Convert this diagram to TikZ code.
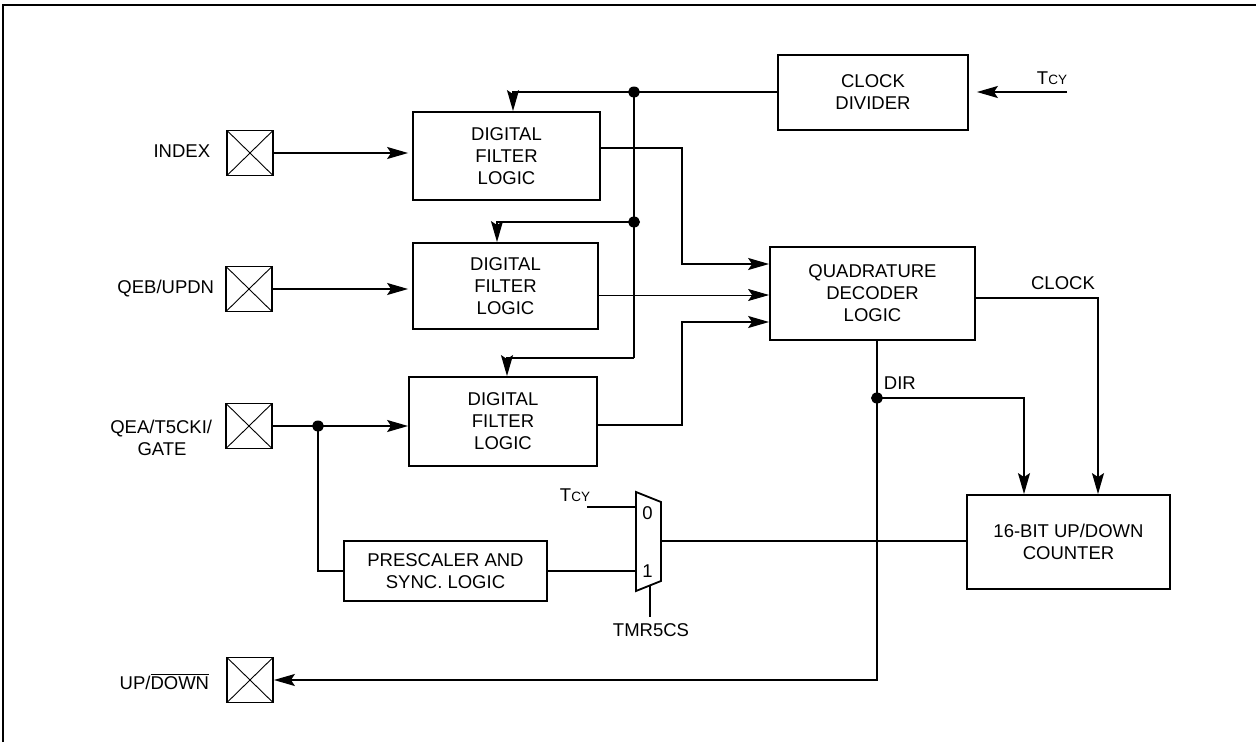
\documentclass[tikz,border=0pt]{standalone}
\usepackage{fontspec}
\setmainfont{Liberation Sans}
\usetikzlibrary{arrows.meta,calc,shapes.geometric}
\begin{document}
\begin{tikzpicture}[x=1pt,y=-1pt,
  line width=1.8pt,
  every node/.style={font=\fontsize{18.5}{22}\selectfont, inner sep=0pt},
  blk/.style={draw, line width=1.8pt, align=center},
  pin/.style={draw, line width=1.8pt, minimum width=46pt, minimum height=45pt,
    path picture={\draw[line width=0.9pt] (path picture bounding box.north west)--(path picture bounding box.south east)
      (path picture bounding box.north east)--(path picture bounding box.south west);}},
  arr/.style={-{Stealth[length=21pt,width=12pt,inset=4pt]}},
  dot/.style={ellipse, fill, minimum width=12pt, minimum height=11pt, inner sep=0pt},
  sm/.style={font=\fontsize{13.5}{13.5}\selectfont}
]
\useasboundingbox (0,0) rectangle (1256,742);
% frame
\draw[line width=2pt] (3,742) -- (3,4.5) -- (1256,4.5);

% blocks
\node[blk, minimum width=190pt, minimum height=75pt] (cd) at (873,92.5) {CLOCK\\DIVIDER};
\node[blk, minimum width=187pt, minimum height=88pt] (dfl1) at (506.5,156) {DIGITAL\\FILTER\\LOGIC};
\node[blk, minimum width=185pt, minimum height=86pt] (dfl2) at (505.5,286) {DIGITAL\\FILTER\\LOGIC};
\node[blk, minimum width=188pt, minimum height=89pt] (dfl3) at (503,421.5) {DIGITAL\\FILTER\\LOGIC};
\node[blk, minimum width=205pt, minimum height=93pt] (qdl) at (872.5,293.5) {QUADRATURE\\DECODER\\LOGIC};
\node[blk, minimum width=203pt, minimum height=94pt] (ctr) at (1068.5,542) {16-BIT UP/DOWN\\COUNTER};
\node[blk, minimum width=203pt, minimum height=60pt] (pre) at (445.5,571) {PRESCALER AND\\SYNC. LOGIC};

% pins
\node[pin] (pIndex) at (250,153) {};
\node[pin] (pQEB) at (249,289) {};
\node[pin] (pQEA) at (249,426) {};
\node[pin] (pUD) at (250,680) {};

% pin labels
\node[anchor=base east] (lIndex) at (211,157.5) {INDEX};
\node[anchor=base east] (lQEB) at (215,293) {QEB/UPDN};
\node[anchor=base east] (lQEA) at (213,433) {QEA/T5CKI/};
\node[anchor=base] (lGATE) at (162,455) {GATE};
\node[anchor=base east] (lUD) at (210,689) {UP/$\overline{\hbox{DOWN}}$};

% junction dots
\node[dot] (j1) at (634,92) {};
\node[dot] (j2) at (634,222) {};
\node[dot] (j3) at (318,426) {};
\node[dot] (j4) at (877,398) {};

% clock distribution
\coordinate (c1) at (513,92);
\coordinate (c2) at (634,358);
\coordinate (c3) at (497,222);
\coordinate (c4) at (507,358);
\draw[arr] (cd.west |- j1) -- (j1.center) -- (c1) -- (c1 |- dfl1.north);
\draw (j1.center) -- (c2);
\draw[arr] (j2.center) -- (c3) -- (c3 |- dfl2.north);
\draw[arr] (c2) -- (c4) -- (c4 |- dfl3.north);

% Tcy into clock divider
\coordinate (t1) at (1067,92);
\draw[arr, shorten >=8pt] (t1) -- (t1 -| cd.east);
\node (tcy1) at (1052,78) {T{\fontsize{13.5}{13.5}\selectfont CY}};

% inputs to filters
\draw[arr, shorten >=4pt] (pIndex.east) -- (pIndex.east -| dfl1.west);
\draw[arr, shorten >=4pt] (pQEB.east) -- (pQEB.east -| dfl2.west);
\draw[arr] (pQEA.east) -- (pQEA.east -| dfl3.west);

% filter outputs to decoder
\coordinate (o1) at (682,148);
\coordinate (q1) at (682,264);
\coordinate (q2) at (682,295);
\coordinate (o3) at (682,425);
\coordinate (q3) at (682,322);
\draw[arr] (dfl1.east |- o1) -- (o1) -- (q1) -- (q1 -| qdl.west);
\draw[arr, line width=0.9pt] (dfl2.east |- q2) -- (q2 -| qdl.west);
\draw[arr] (dfl3.east |- o3) -- (o3) -- (q3) -- (q3 -| qdl.west);

% CLOCK and DIR
\coordinate (k1) at (1098,298);
\draw[arr] (qdl.east |- k1) -- (k1) -- (k1 |- ctr.north);
\node (lclk) at (1063,283) {CLOCK};
\coordinate (d1) at (1024,398);
\coordinate (d2) at (877,680);
\draw[arr] (j4 |- qdl.south) -- (d2) -- (d2 -| pUD.east);
\draw[arr] (j4.center) -- (d1) -- (d1 |- ctr.north);
\node[anchor=west] (ldir) at (883,383) {DIR};

% prescaler path
\coordinate (p1) at (318,571);
\draw (j3.center) -- (p1) -- (pre.west);

% multiplexer
\coordinate (m1) at (636,492);
\coordinate (m2) at (661,502);
\coordinate (m3) at (661,581);
\coordinate (m4) at (636,591);
\draw (m1) -- (m2) -- (m3) -- (m4) -- cycle;
\node (mux0) at (647.5,513) {0};
\node (mux1) at (647.5,571) {1};
\coordinate (t0) at (587,507);
\draw (t0) -- (t0 -| m1);
\node (tcy2) at (575,495) {T{\fontsize{13.5}{13.5}\selectfont CY}};
\draw (pre.east) -- (pre.east -| m1);
\coordinate (mo) at (661,541);
\draw (mo) -- (mo -| ctr.west);
\coordinate (s0) at (650,586);
\coordinate (s1) at (650,617);
\draw (s0) -- (s1);
\node[anchor=north] (tmr) at (651,623) {TMR5CS};
\end{tikzpicture}
\end{document}
